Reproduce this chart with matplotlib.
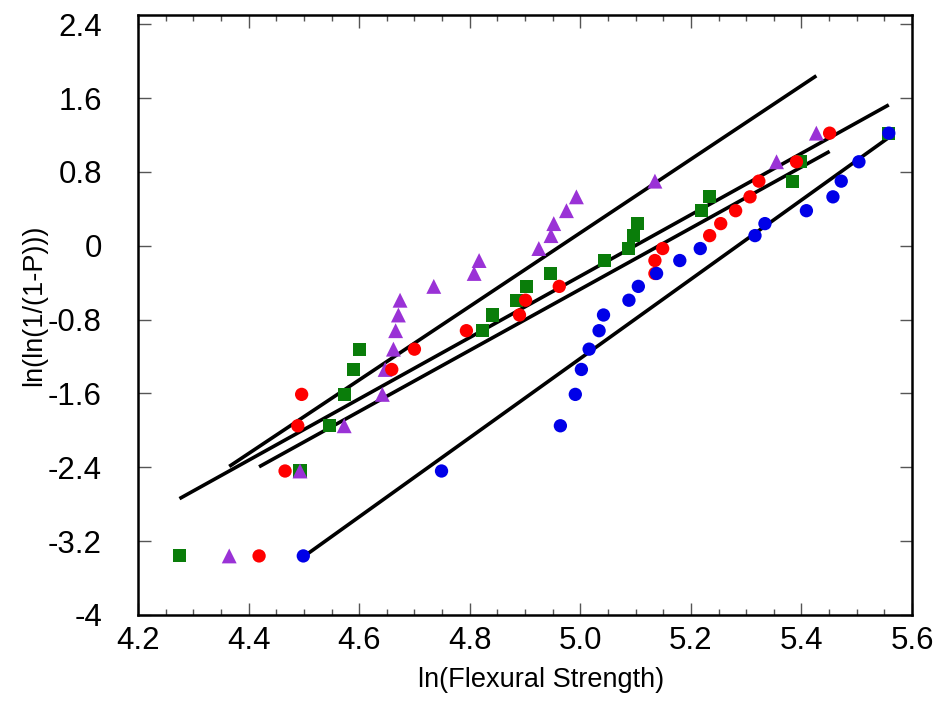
import matplotlib
matplotlib.use("Agg")
import matplotlib.pyplot as plt
import numpy as np
from matplotlib.ticker import MultipleLocator, FixedLocator, FixedFormatter

plt.rcParams['font.family'] = ['Liberation Sans', 'DejaVu Sans']

# Weibull plotting positions (same ranks for all series)
y_levels = [-3.36, -2.44, -1.95, -1.61, -1.34, -1.12, -0.92, -0.75, -0.59, -0.44,
            -0.30, -0.16, -0.03, 0.11, 0.24, 0.38, 0.53, 0.70, 0.91, 1.22]

x_red = [4.419, 4.466, 4.489, 4.496, 4.659, 4.700, 4.794, 4.890, 4.901, 4.962,
         5.135, 5.135, 5.149, 5.234, 5.254, 5.281, 5.307, 5.323, 5.391, 5.451]
x_green = [4.275, 4.493, 4.546, 4.574, 4.589, 4.600, 4.823, 4.842, 4.884, 4.902,
           4.946, 5.043, 5.088, 5.096, 5.104, 5.220, 5.234, 5.383, 5.399, 5.558]
x_purple = [4.365, 4.493, 4.573, 4.642, 4.647, 4.662, 4.666, 4.671, 4.674, 4.735,
            4.808, 4.817, 4.925, 4.947, 4.952, 4.975, 4.993, 5.135, 5.355, 5.427]
x_blue = [4.499, 4.749, 4.964, 4.991, 5.002, 5.016, 5.034, 5.042, 5.088, 5.105,
          5.138, 5.180, 5.217, 5.316, 5.334, 5.409, 5.457, 5.472, 5.504, 5.558]

# fitted Weibull lines: slope, intercept
fit_purple = (3.985, -19.785)
fit_green = (3.325, -16.954)
fit_red = (3.311, -17.026)
fit_blue = (4.29, -22.671)

y_ticks = [2.4, 1.6, 0.8, 0, -0.8, -1.6, -2.4, -3.2, -4]
y_ticklabels = ["2.4", "1.6", "0.8", "0", "-0.8", "-1.6", "-2.4", "-3.2", "-4"]
x_ticks = [4.2, 4.4, 4.6, 4.8, 5.0, 5.2, 5.4, 5.6]
x_ticklabels = ["4.2", "4.4", "4.6", "4.8", "5.0", "5.2", "5.4", "5.6"]

fig = plt.figure(figsize=(9.4, 7.08), dpi=100)
ax = fig.add_axes([138/940, 1-615/708, (912-138)/940, (615-15)/708])

def fit_line(xs, fit):
    m, c = fit
    xx = np.array([min(xs), max(xs)])
    ax.plot(xx, m*xx + c, color='black', lw=2.6, solid_capstyle='butt', zorder=2)

fit_line(x_purple, fit_purple)
fit_line(x_green, fit_green)
fit_line(x_red, fit_red)
fit_line(x_blue, fit_blue)

ax.scatter(x_green, y_levels, marker='s', s=88, color='#0a7d0a', edgecolors='none', zorder=3)
ax.scatter(x_purple, y_levels, marker='^', s=115, color='#9a32d6', edgecolors='none', zorder=4)
ax.scatter(x_red, y_levels, marker='o', s=92, color='#ff0000', edgecolors='none', zorder=5)
ax.scatter(x_blue, y_levels, marker='o', s=92, color='#0000e8', edgecolors='none', zorder=6)

ax.set_xlim(4.2, 5.6)
ax.set_ylim(-4, 2.5)
ax.xaxis.set_major_locator(FixedLocator(x_ticks))
ax.xaxis.set_major_formatter(FixedFormatter(x_ticklabels))
ax.xaxis.set_minor_locator(MultipleLocator(0.05))
ax.yaxis.set_major_locator(FixedLocator(y_ticks))
ax.yaxis.set_major_formatter(FixedFormatter(y_ticklabels))

ax.tick_params(axis='both', which='major', direction='in', length=9, width=1.0,
               color='#555555', labelsize=22.5, top=True, right=True)
ax.tick_params(axis='y', which='major', pad=26)
ax.tick_params(axis='x', which='major', pad=8)
ax.tick_params(axis='x', which='minor', direction='in', length=4, width=1.0,
               color='#555555', top=True)
for sp in ax.spines.values():
    sp.set_linewidth(1.8)
    sp.set_color('black')

ax.set_xlabel('ln(Flexural Strength)', fontsize=19.5)
ax.set_ylabel('ln(ln(1/(1-P)))', fontsize=19.5)
ax.xaxis.set_label_coords((541-138)/774, -(667-615)/600)
ax.yaxis.set_label_coords(-(138-47)/774, (615-305)/600)

fig.savefig('out.png', dpi=100)
